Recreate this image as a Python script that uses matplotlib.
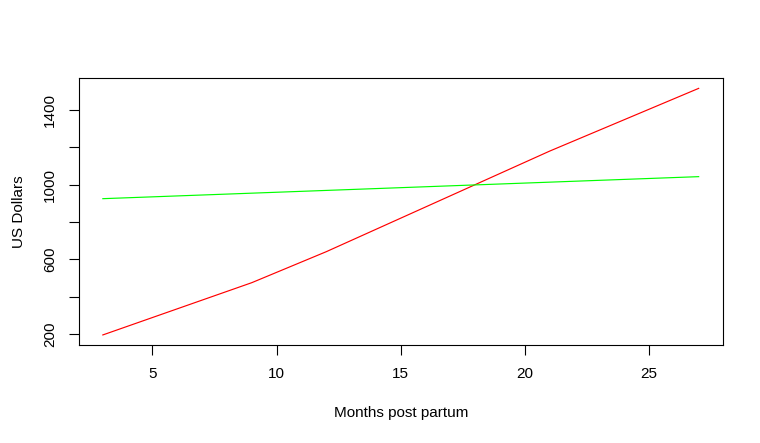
import matplotlib.pyplot as plt

# Data
months_red = [3, 9, 12, 21, 27]
dollars_red = [195, 475, 641, 1180, 1516]
months_green = [3, 27]
dollars_green = [925, 1043]

x_ticks = [5, 10, 15, 20, 25]
y_ticks = [200, 400, 600, 800, 1000, 1200, 1400]
y_labels = ["200", "", "600", "", "1000", "", "1400"]

plt.rcParams['font.family'] = ['Liberation Sans', 'DejaVu Sans']

W, H = 760, 443
fig = plt.figure(figsize=(W / 100, H / 100), dpi=100)
left, right, top, bottom = 79, 722.5, 78.5, 344.8
ax = fig.add_axes([left / W, (H - bottom) / H, (right - left) / W, (bottom - top) / H])

ax.plot(months_red, dollars_red, color="red", lw=0.85)
ax.plot(months_green, dollars_green, color="#00ff00", lw=0.85)

# R style 4% padding
xr = max(months_red) - min(months_red)
ax.set_xlim(min(months_red) - 0.04 * xr, max(months_red) + 0.04 * xr)
ymin = min(dollars_red + dollars_green)
ymax = max(dollars_red + dollars_green)
yr = ymax - ymin
ax.set_ylim(ymin - 0.04 * yr, ymax + 0.04 * yr)

ax.set_xticks(x_ticks)
ax.set_xticklabels([str(t) for t in x_ticks])
ax.set_yticks(y_ticks)
ax.set_yticklabels(y_labels, rotation=90, va="center")

ax.tick_params(axis="both", length=7, width=0.8, labelsize=11, color="black")
ax.tick_params(axis="x", pad=9)
ax.tick_params(axis="y", pad=9)
for s in ax.spines.values():
    s.set_linewidth(0.8)

ax.set_xlabel("Months post partum", fontsize=11, labelpad=18)
ax.set_ylabel("US Dollars", fontsize=11, labelpad=12)

fig.savefig("out.png", dpi=100)
